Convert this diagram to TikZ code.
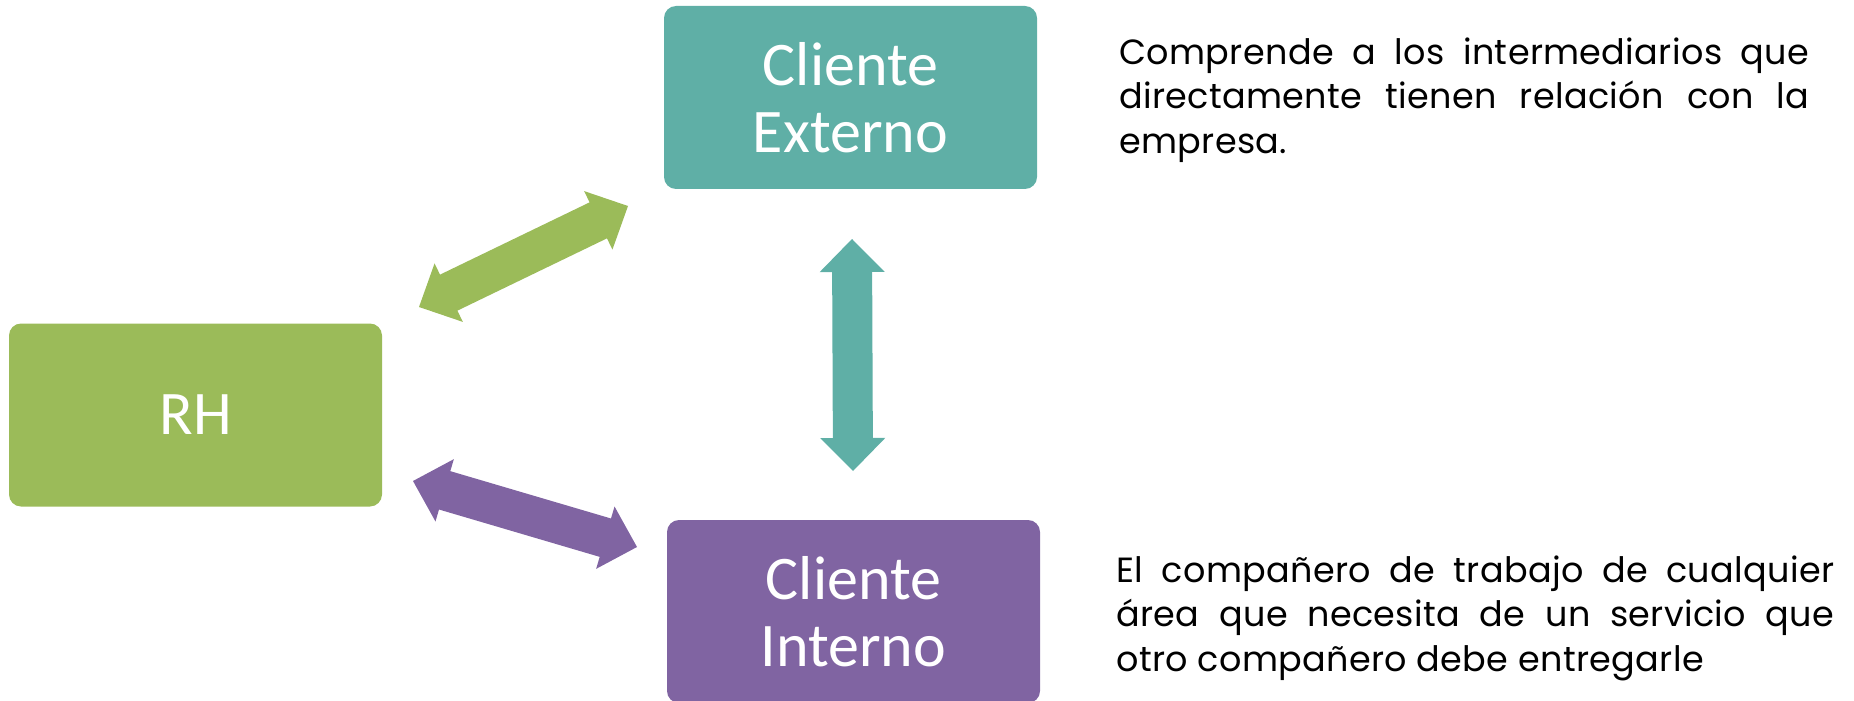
\documentclass[tikz,border=0pt]{standalone}
\usepackage{fontspec}
\usetikzlibrary{calc}
\newfontfamily\boxfont{Carlito}
\newfontfamily\descfont[LetterSpace=1]{Poppins}
\definecolor{rhgreen}{HTML}{9BBB59}
\definecolor{extteal}{HTML}{5FAFA6}
\definecolor{intpurple}{HTML}{8064A2}
\hyphenpenalty=10000
\exhyphenpenalty=10000
\newcommand\blkarrow[3]{%
  \fill[#3] (#1)
    -- ($(#1)!16.5pt!(#2)!16.25pt!90:(#2)$)
    -- ($(#1)!16.5pt!(#2)!10pt!90:(#2)$)
    -- ($(#2)!16.5pt!(#1)!10pt!-90:(#1)$)
    -- ($(#2)!16.5pt!(#1)!16.25pt!-90:(#1)$)
    -- (#2)
    -- ($(#2)!16.5pt!(#1)!16.25pt!90:(#1)$)
    -- ($(#2)!16.5pt!(#1)!10pt!90:(#1)$)
    -- ($(#1)!16.5pt!(#2)!10pt!-90:(#2)$)
    -- ($(#1)!16.5pt!(#2)!16.25pt!-90:(#2)$)
    -- cycle;}
\begin{document}
\begin{tikzpicture}[x=0.5pt,y=-0.5pt,
  box/.style={rounded corners=6pt, minimum width=186.5pt, minimum height=91.5pt,
    inner sep=0pt, text=white, align=center,
    font=\boxfont\fontsize{31}{33.5}\selectfont},
  desc/.style={anchor=north west, inner sep=0pt, align=justify,
    font=\descfont\fontsize{17.5}{22.3}\selectfont}]
\useasboundingbox (0,0) rectangle (1854,701);
\node[box, fill=extteal] (ce) at (850.5,97.5) {Cliente\\Externo};
\node[box, fill=rhgreen] (rh) at (195.5,415) {RH};
\node[box, fill=intpurple] (ci) at (853.5,611.5) {Cliente\\Interno};
\coordinate (g1) at (419,307);
\coordinate (g2) at (628,206);
\coordinate (p1) at (413,481);
\coordinate (p2) at (637,547);
\coordinate (t1) at (852,239);
\coordinate (t2) at (853,471);
\blkarrow{g1}{g2}{rhgreen}
\blkarrow{p1}{p2}{intpurple}
\blkarrow{t1}{t2}{extteal}
\node[desc, text width=345pt] (d1) at (1119,37) {Comprende a los intermediarios que\linebreak directamente tienen relación con la\linebreak empresa.};
\node[desc, text width=359pt] (d2) at (1116,555) {El compañero de trabajo de cualquier\linebreak área que necesita de un servicio que\linebreak otro compañero debe entregarle};
\end{tikzpicture}
\end{document}
